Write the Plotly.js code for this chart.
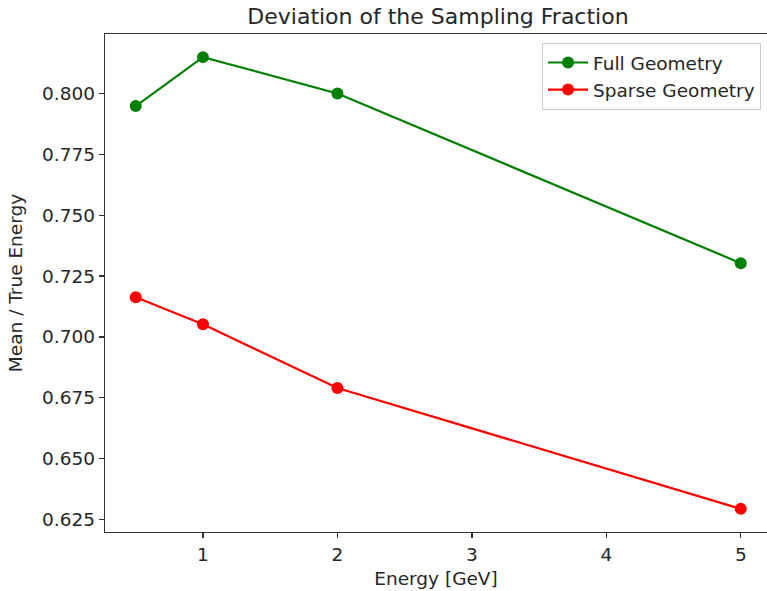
<!DOCTYPE html>
<html>
<head>
<meta charset="utf-8">
<script src="https://cdn.plot.ly/plotly-3.0.1.min.js"></script>
<style>html,body{margin:0;padding:0;background:#fff;}#chart{width:767px;height:591px;}</style>
</head>
<body>
<div id="chart"></div>
<script>
const energies = [0.5, 1, 2, 5];
const fullGeometry = [0.7948, 0.8149, 0.8000, 0.7303];
const sparseGeometry = [0.7163, 0.7052, 0.6790, 0.6294];
const seriesNames = ["Full Geometry", "Sparse Geometry"];
const yTickVals = [0.625, 0.650, 0.675, 0.700, 0.725, 0.750, 0.775, 0.800];
const xTickVals = [1, 2, 3, 4, 5];

const font = {family: "DejaVu Sans, sans-serif", size: 18.5, color: "#262626"};

const traces = [
  {x: energies, y: fullGeometry, name: seriesNames[0], mode: "lines+markers",
   line: {color: "green", width: 2.2}, marker: {color: "green", size: 12}},
  {x: energies, y: sparseGeometry, name: seriesNames[1], mode: "lines+markers",
   line: {color: "red", width: 2.2}, marker: {color: "red", size: 12}}
];

const layout = {
  width: 767, height: 591,
  margin: {l: 105, r: 0, t: 34, b: 59},
  paper_bgcolor: "#fff", plot_bgcolor: "#fff",
  font: font,
  title: {text: "Deviation of the Sampling Fraction", font: {family: font.family, size: 22, color: "#262626"},
          x: 0.571, xref: "container", xanchor: "center", y: 0.973, yanchor: "middle"},
  xaxis: {range: [0.2714, 5.195], tickvals: xTickVals, ticks: "outside", ticklen: 5, tickwidth: 1.3,
          tickcolor: "#333", showline: true, linecolor: "#333", linewidth: 1.3, mirror: true,
          showgrid: false, zeroline: false, tickfont: font,
          title: {text: "Energy [GeV]", font: font, standoff: 8}},
  yaxis: {range: [0.6199, 0.8244], tickvals: yTickVals, tickformat: ".3f", ticks: "outside", ticklen: 5,
          tickwidth: 1.3, tickcolor: "#333", showline: true, linecolor: "#333", linewidth: 1.3, mirror: false,
          showgrid: false, zeroline: false, tickfont: font,
          title: {text: "Mean / True Energy", font: font, standoff: 14}},
  legend: {x: 0.991, y: 0.982, xanchor: "right", yanchor: "top", bgcolor: "rgba(255,255,255,0.8)",
           bordercolor: "#ccc", borderwidth: 1, font: font, tracegroupgap: 0, itemwidth: 40},
  showlegend: true
};

Plotly.newPlot("chart", traces, layout, {displayModeBar: false, staticPlot: true});
</script>
</body>
</html>
